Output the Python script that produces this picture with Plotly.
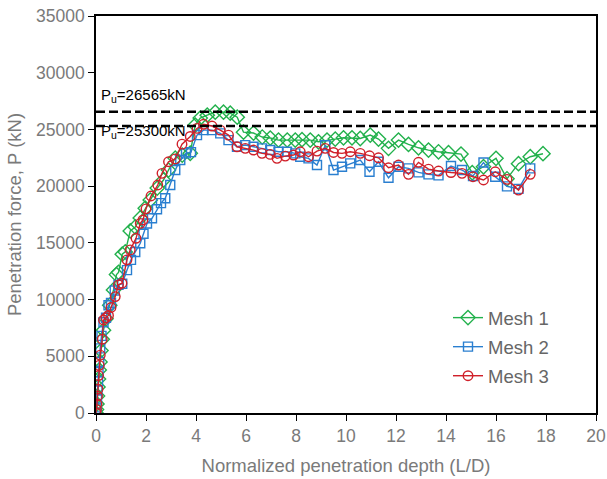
import plotly.graph_objects as go

mesh1_x = [0, 0.02, 0.04, 0.06, 0.08, 0.1, 0.13, 0.16, 0.2, 0.25, 0.3, 0.4, 0.55, 0.7, 0.82, 0.9, 1.05, 1.17,
           1.37, 1.57, 1.77, 1.97, 2.17, 2.45, 2.7, 2.9, 3.17, 3.45, 3.77, 3.97, 4.17, 4.45, 4.77, 5.1, 5.37,
           5.65, 5.9, 6.3, 6.65, 6.97, 7.3, 7.65, 7.97, 8.24, 8.57, 8.9, 9.24, 9.57, 9.9, 10.24, 10.57, 10.97,
           11.3, 11.7, 12.1, 12.5, 12.9, 13.3, 13.7, 14.1, 14.6, 15.05, 15.5, 16.0, 16.44, 16.9, 17.37, 17.88]
mesh1_y = [0, 300, 800, 1500, 2300, 3000, 3800, 4500, 5500, 6500, 7300, 8300, 9500, 10850, 12200, 12400, 14000, 14200,
           16050, 16400, 17200, 18050, 18770, 19830, 20540, 21420, 22470, 22740, 22900, 25380, 26000, 26260, 26520, 26520, 26430,
           26080, 24760, 24680, 24330, 24240, 24060, 24060, 24060, 24100, 24060, 23910, 24060, 24150, 24260, 24260, 24200, 24500,
           24150, 23330, 24060, 23680, 23380, 23180, 23030, 22950, 22830, 21180, 21710, 22450, 20650, 21980, 22590, 22860]

mesh2_x = [0, 0.02, 0.04, 0.06, 0.08, 0.1, 0.13, 0.17, 0.22, 0.3, 0.4, 0.5, 0.6, 0.75, 0.9, 1.05, 1.24, 1.4,
           1.57, 1.77, 1.9, 2.04, 2.24, 2.44, 2.6, 2.77, 2.97, 3.17, 3.37, 3.6, 3.8, 4.04, 4.3, 4.64, 4.97, 5.3,
           5.64, 5.97, 6.3, 6.64, 6.97, 7.3, 7.64, 7.97, 8.17, 8.5, 8.84, 9.17, 9.5, 9.84, 10.17, 10.57, 10.94,
           11.3, 11.7, 12.1, 12.5, 12.9, 13.3, 13.7, 14.2, 14.64, 15.08, 15.5, 15.97, 16.44, 16.9, 17.37]
mesh2_y = [0, 500, 1200, 2000, 2800, 3600, 4500, 5700, 6800, 8000, 8400, 9500, 9700, 10800, 11300, 11400, 12600, 13500,
           14200, 14960, 15800, 16700, 17170, 17960, 18500, 18930, 20100, 21420, 22300, 22890, 23000, 24500, 24940, 24940, 24650, 24060,
           23470, 23620, 23470, 23330, 23180, 23030, 23030, 22890, 22590, 22450, 21860, 23600, 21420, 21710, 22010, 22300, 21270,
           22150, 20740, 21710, 21570, 21210, 21040, 20950, 21770, 21420, 20900, 22080, 20830, 19980, 19760, 21570]

mesh3_x = [0, 0.02, 0.04, 0.06, 0.08, 0.1, 0.13, 0.17, 0.25, 0.3, 0.4, 0.5, 0.6, 0.77, 0.9, 1.04, 1.24, 1.37,
           1.6, 1.77, 1.88, 2.0, 2.2, 2.47, 2.64, 2.9, 3.17, 3.44, 3.77, 4.04, 4.3, 4.64, 4.97, 5.3, 5.64, 5.97,
           6.3, 6.64, 6.97, 7.24, 7.57, 7.9, 8.17, 8.5, 8.84, 9.17, 9.5, 9.84, 10.17, 10.57, 10.94, 11.3, 11.7,
           12.1, 12.5, 12.9, 13.3, 13.7, 14.2, 14.64, 15.08, 15.5, 15.97, 16.44, 16.9, 17.37]
mesh3_y = [0, 300, 800, 1500, 2100, 3300, 4200, 5100, 6500, 8200, 8400, 8600, 9300, 10260, 11300, 11440, 13500, 14380,
           15400, 16720, 17020, 18000, 19130, 20100, 21130, 22150, 22400, 23700, 24380, 25090, 25450, 25300, 24940, 24500, 23470, 23330,
           23180, 22890, 22800, 22450, 22650, 22740, 23030, 22590, 23090, 23330, 22970, 22890, 23030, 22890, 22680, 22500, 21620,
           21860, 21040, 22100, 21500, 21330, 21200, 21130, 20830, 20540, 21270, 20600, 19650, 21040]

pu_values = [26565, 25300]
pu_labels = ["P<sub>u</sub>=26565kN", "P<sub>u</sub>=25300kN"]
pu_label_y = [28000, 24850]

series = [
    ("Mesh 1", mesh1_x, mesh1_y, "#22b14c", "diamond-open", 11),
    ("Mesh 2", mesh2_x, mesh2_y, "#2a7fd0", "square-open", 9),
    ("Mesh 3", mesh3_x, mesh3_y, "#d0202a", "circle-open", 9.5),
]

FONT = "Liberation Sans, Arial"
GRAY = "#7a7a7a"

fig = go.Figure()
for name, xs, ys, col, sym, sz in series:
    fig.add_trace(go.Scatter(
        x=xs, y=ys, name=name, legendgroup=name, mode="lines+markers",
        line=dict(color=col, width=1.4),
        marker=dict(symbol=sym, size=sz, color=col, line=dict(width=1.4, color=col)),
    ))

for v in pu_values:
    fig.add_shape(type="line", xref="x", yref="y", x0=0, x1=20, y0=v, y1=v,
                  line=dict(color="black", width=2.5, dash="9px,4px"))
for lab, ly in zip(pu_labels, pu_label_y):
    fig.add_annotation(x=0.13, y=ly, xref="x", yref="y", text=lab, showarrow=False,
                       xanchor="left", yanchor="middle",
                       font=dict(family=FONT, size=15, color="black"))

axis_common = dict(
    showline=True, linecolor="black", linewidth=1.5, mirror=True,
    ticks="outside", ticklen=6, tickcolor="black", tickwidth=1.3,
    showgrid=False, zeroline=False, automargin=False,
    tickfont=dict(family=FONT, size=17.5, color=GRAY),
)
fig.update_xaxes(range=[0, 20], dtick=2, tick0=0,
                 title=dict(text="Normalized penetration depth (L/D)", standoff=14,
                            font=dict(family=FONT, size=18.5, color=GRAY)),
                 **axis_common)
fig.update_yaxes(range=[0, 35000], dtick=5000, tick0=0, tickformat="d",
                 title=dict(text="Penetration force, P (kN)", standoff=10,
                            font=dict(family=FONT, size=18.5, color=GRAY)),
                 **axis_common)

fig.update_layout(
    width=607, height=479,
    margin=dict(l=96, r=11, t=16, b=66),
    plot_bgcolor="white", paper_bgcolor="white",
    showlegend=True,
    legend=dict(x=0.704, y=0.166, xanchor="left", yanchor="middle",
                bgcolor="rgba(0,0,0,0)",
                font=dict(family=FONT, size=18.5, color="#666666"),
                itemwidth=30, tracegroupgap=2),
)

fig.write_html("out.html")
